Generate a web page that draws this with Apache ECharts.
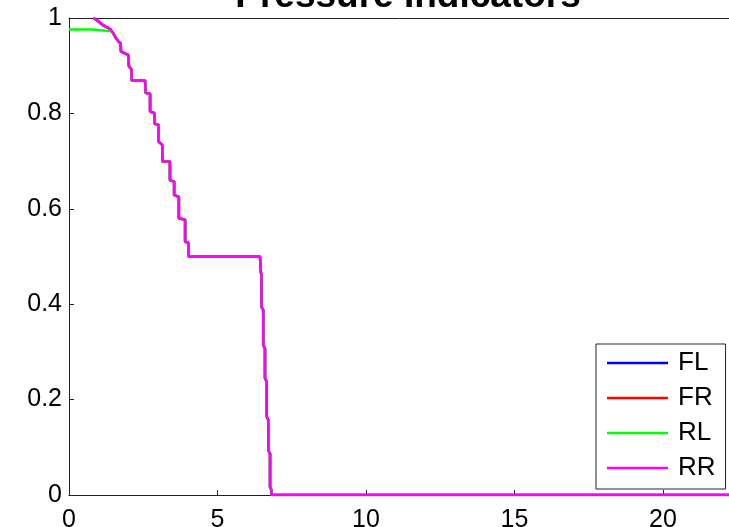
<!DOCTYPE html>
<html>
<head>
<meta charset="utf-8">
<script src="https://cdn.jsdelivr.net/npm/echarts@6/dist/echarts.min.js"></script>
<style>
  html, body { margin: 0; padding: 0; background: #fff; }
  #chart { width: 729px; height: 527px; }
</style>
</head>
<body>
<div id="chart"></div>
<script>
// pressure indicator traces (time, value)
const timeRR = [0.82, 0.95, 1.05, 1.15, 1.3, 1.40, 1.49, 1.58, 1.66, 1.74, 1.75, 2.0, 2.02, 2.11, 2.11,
  2.56, 2.58, 2.73, 2.73, 2.87, 2.89, 3.01, 3.01, 3.14, 3.14, 3.40, 3.40, 3.54, 3.54, 3.70, 3.70,
  3.91, 3.91, 4.02, 4.02, 6.43, 6.46, 6.48, 6.48, 6.54, 6.54, 6.60, 6.60, 6.66, 6.66, 6.71, 6.71,
  6.77, 6.77, 6.82, 6.82, 23];
const valueRR = [1.0, 0.995, 0.99, 0.985, 0.98, 0.976, 0.968, 0.958, 0.951, 0.947, 0.93, 0.922, 0.898, 0.892, 0.869,
  0.869, 0.843, 0.841, 0.804, 0.801, 0.778, 0.776, 0.741, 0.734, 0.699, 0.699, 0.660, 0.657, 0.629, 0.625, 0.580,
  0.577, 0.531, 0.529, 0.5, 0.5, 0.468, 0.46, 0.395, 0.388, 0.314, 0.307, 0.245, 0.237, 0.164, 0.158, 0.094,
  0.087, 0.017, 0.01, 0, 0];
const timeRLStart = [0, 0.80, 0.83, 1.42];
const valueRLStart = [0.976, 0.976, 0.972, 0.972];
const seriesNames = ['FL', 'FR', 'RL', 'RR'];
const seriesColors = ['#0000ff', '#ff0000', '#00ff00', '#ff00ff'];
const xTicks = [0, 5, 10, 15, 20];
const yTicks = [0, 0.2, 0.4, 0.6, 0.8, 1];

const rrPoints = timeRR.map((t, i) => [t, valueRR[i]]);
// RL sits a bit lower at first, then runs under RR
const rlPoints = timeRLStart.map((t, i) => [t, valueRLStart[i]])
  .concat(rrPoints.filter(p => p[0] > 1.44));
const pointsByName = { FL: rrPoints, FR: rrPoints, RL: rlPoints, RR: rrPoints };

const font = 'Liberation Sans, Arial, sans-serif';
const axisColor = '#222';
const chart = echarts.init(document.getElementById('chart'));

chart.setOption({
  animation: false,
  backgroundColor: '#fff',
  title: {
    text: 'Pressure Indicators',
    left: 403,
    textAlign: 'center',
    top: -27,
    textStyle: { fontFamily: font, fontWeight: 'bold', fontSize: 37, color: '#000' }
  },
  legend: {
    data: seriesNames,
    orient: 'vertical',
    left: 596,
    top: 344,
    padding: [6, 10, 8, 11],
    itemGap: 9,
    itemWidth: 61,
    itemHeight: 2.5,
    icon: 'rect',
    backgroundColor: '#fff',
    borderColor: axisColor,
    borderWidth: 1,
    borderRadius: 0,
    textStyle: { fontFamily: font, fontSize: 26, color: '#000', padding: [0, 0, 0, 5] }
  },
  // right edge of the axes box falls just outside the picture
  grid: { left: 69, top: 18, width: 664, height: 477, show: false, outerBoundsMode: 'none', containLabel: false },
  xAxis: [{
    type: 'value',
    min: 0,
    max: 22.36,
    interval: 5,
    axisLine: { lineStyle: { color: axisColor, width: 1 } },
    axisTick: { inside: true, length: 5, lineStyle: { color: axisColor } },
    splitLine: { show: false },
    axisLabel: {
      margin: 13,
      showMaxLabel: false,
      color: '#000',
      fontFamily: font,
      fontSize: 25,
      formatter: v => (xTicks.includes(v) ? String(v) : '')
    }
  }, {
    type: 'value',
    position: 'top',
    min: 0,
    max: 22.36,
    interval: 5,
    axisLine: { lineStyle: { color: axisColor, width: 1 } },
    axisTick: { show: false },
    axisLabel: { show: false },
    splitLine: { show: false }
  }],
  yAxis: {
    type: 'value',
    min: 0,
    max: 1,
    interval: 0.2,
    axisLine: { lineStyle: { color: axisColor, width: 1 } },
    axisTick: { inside: true, length: 5, lineStyle: { color: axisColor } },
    splitLine: { show: false },
    axisLabel: {
      margin: 7,
      color: '#000',
      fontFamily: font,
      fontSize: 25,
      formatter: v => {
        const t = yTicks.find(y => Math.abs(y - v) < 1e-6);
        return t === undefined ? '' : String(t);
      }
    }
  },
  series: seriesNames.map((name, i) => ({
    name,
    type: 'line',
    xAxisIndex: 0,
    data: pointsByName[name],
    showSymbol: false,
    symbol: 'none',
    clip: true,
    color: seriesColors[i],
    itemStyle: { color: seriesColors[i] },
    lineStyle: { color: seriesColors[i], width: 2.5 }
  }))
});
</script>
</body>
</html>
